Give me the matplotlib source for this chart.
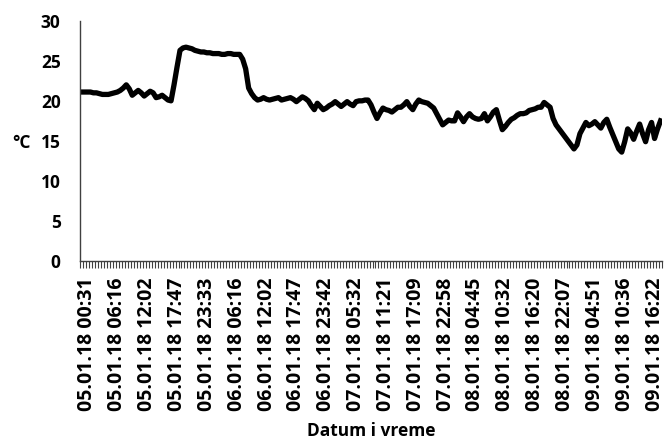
import matplotlib
matplotlib.use("Agg")
import matplotlib.pyplot as plt
import numpy as np

plt.rcParams['font.family'] = ['Open Sans', 'DejaVu Sans']
plt.rcParams['font.weight'] = 'bold'

# temperature readings, one per sample (~35 min apart)
temperature = [
    21.1, 21.1, 21.1, 21.1, 21.0, 21.0, 20.9, 20.8, 20.8, 20.8,
    20.9, 21.0, 21.1, 21.3, 21.6, 22.0, 21.5, 20.7, 21.0, 21.3,
    21.0, 20.6, 20.9, 21.2, 21.0, 20.4, 20.5, 20.7, 20.4, 20.1,
    20.0, 22.0, 24.2, 26.3, 26.6, 26.7, 26.6, 26.5, 26.3, 26.2,
    26.1, 26.1, 26.0, 26.0, 25.9, 25.9, 25.9, 25.8, 25.8, 25.9,
    25.9, 25.8, 25.8, 25.8, 25.2, 24.0, 21.6, 20.9, 20.4, 20.1,
    20.2, 20.4, 20.2, 20.1, 20.2, 20.3, 20.4, 20.1, 20.2, 20.3,
    20.4, 20.2, 19.9, 20.2, 20.5, 20.3, 20.0, 19.4, 18.9, 19.7,
    19.3, 18.9, 19.1, 19.4, 19.6, 19.9, 19.6, 19.3, 19.6, 19.9,
    19.6, 19.4, 19.9, 20.0, 20.0, 20.1, 20.1, 19.5, 18.6, 17.8,
    18.5, 19.1, 18.9, 18.8, 18.6, 18.9, 19.2, 19.2, 19.5, 19.9,
    19.3, 18.9, 19.6, 20.1, 19.9, 19.8, 19.7, 19.4, 19.1, 18.4,
    17.7, 17.0, 17.3, 17.6, 17.5, 17.5, 18.5, 18.0, 17.4, 18.0,
    18.4, 18.0, 17.8, 17.7, 17.8, 18.4, 17.5, 18.0, 18.6, 18.9,
    17.6, 16.4, 16.8, 17.3, 17.7, 17.9, 18.2, 18.4, 18.4, 18.5,
    18.8, 18.9, 19.0, 19.2, 19.2, 19.8, 19.5, 19.2, 17.8, 17.0,
    16.5, 16.0, 15.5, 15.0, 14.5, 14.0, 14.5, 15.9, 16.6, 17.3,
    16.9, 17.1, 17.4, 17.0, 16.6, 17.3, 17.7, 16.7, 15.8, 14.9,
    14.0, 13.6, 14.9, 16.5, 16.0, 15.2, 16.2, 17.1, 15.9, 14.9,
    16.4, 17.3, 15.3, 16.5, 17.5,
]

# every tenth sample gets a date/time label, starting with the third one
label_start = 2
label_step = 10
time_labels = [
    '05.01.18 00:31', '05.01.18 06:16', '05.01.18 12:02', '05.01.18 17:47',
    '05.01.18 23:33', '06.01.18 06:16', '06.01.18 12:02', '06.01.18 17:47',
    '06.01.18 23:42', '07.01.18 05:32', '07.01.18 11:21', '07.01.18 17:09',
    '07.01.18 22:58', '08.01.18 04:45', '08.01.18 10:32', '08.01.18 16:20',
    '08.01.18 22:07', '09.01.18 04:51', '09.01.18 10:36', '09.01.18 16:22',
]

n = len(temperature)
x = np.arange(n)

fig = plt.figure(figsize=(6.64, 4.41), dpi=100)
ax = fig.add_axes([0.1205, 0.408, 0.8765, 0.545])

ax.plot(x, temperature, color='black', linewidth=3.8, solid_joinstyle='round')

ax.set_xlim(-0.5, n - 0.5)
ax.set_ylim(0, 30)
ax.set_yticks(range(0, 31, 5))

label_pos = [label_start + label_step * k for k in range(len(time_labels))]
ax.set_xticks(label_pos)
ax.set_xticklabels(time_labels, rotation=90, fontsize=14, fontweight='bold')
ax.set_xticks(np.arange(-0.5, n, 1), minor=True)
ax.tick_params(axis='x', which='major', length=0, pad=12)
ax.tick_params(axis='x', which='minor', length=5, width=0.8, color='#404040')
ax.tick_params(axis='y', length=0, pad=14, labelsize=12.5)

for side in ['top', 'right']:
    ax.spines[side].set_visible(False)
for side in ['left', 'bottom']:
    ax.spines[side].set_color('#404040')
    ax.spines[side].set_linewidth(1.0)

ax.set_ylabel('°C', rotation=0, fontsize=12.5, fontweight='bold')
ax.yaxis.set_label_coords(-0.1, 0.49)
ax.yaxis.label.set_va('center')
ax.set_xlabel('Datum i vreme', fontsize=12.5, fontweight='bold')
ax.xaxis.set_label_coords(0.5, -0.705)
ax.xaxis.label.set_va('center')

fig.savefig('out.png', dpi=100)
